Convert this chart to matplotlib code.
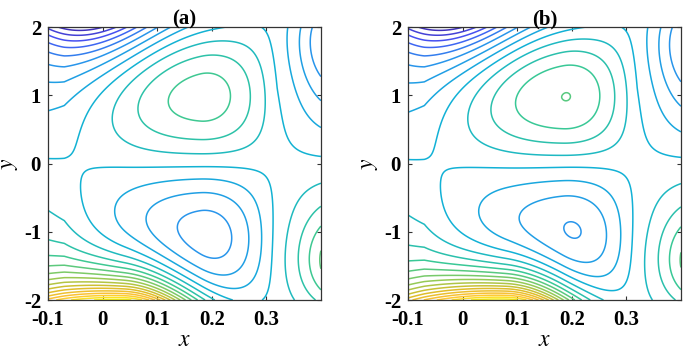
import matplotlib

matplotlib.use("Agg")

import matplotlib.pyplot as plt
import numpy as np
from matplotlib.colors import LinearSegmentedColormap, Normalize

# panel titles and axis ticks
panel_titles = ["(a)", "(b)"]
x_ticks = [-0.1, 0.0, 0.1, 0.2, 0.3]
x_tick_labels = ["-0.1", "0", "0.1", "0.2", "0.3"]
y_ticks = [-2, -1, 0, 1, 2]
y_tick_labels = ["-2", "-1", "0", "1", "2"]
x_range = [-0.1, 0.4]
y_range = [-2.0, 2.0]

# features (per panel a, b), strengths in contour steps
saddle_x = [(-0.07, 0.32), (-0.07, 0.32)]      # x of the two saddles on y = 0
cell_x = [0.18, 0.185]                         # x of the cell centres
upper_amp = [3.4, 3.88]                        # upper cell (maximum)
lower_amp = [4.2, 4.0]                         # lower cell (minimum)
top_amp = [9.0, 9.0]                           # top-left wall mode
top_x = [-0.04, -0.04]
bot_amp = [15.0, 15.5]                         # bottom wall mode (yellow)
bot_x = [0.04, 0.08]
br_amp = [3.5, 3.5]                            # bottom-right lobe
tr_amp = [4.5, 4.5]                            # top-right corner
level_offset = -0.25                           # contour levels sit at k + offset

parula_nodes = [
    (0.2422, 0.1504, 0.6603),
    (0.2810, 0.3228, 0.9579),
    (0.1540, 0.5902, 0.9218),
    (0.0689, 0.6948, 0.8394),
    (0.2161, 0.7843, 0.5923),
    (0.5709, 0.7961, 0.3470),
    (0.8633, 0.7406, 0.1596),
    (0.9966, 0.7610, 0.2160),
    (0.9769, 0.9839, 0.0805),
]
parula = LinearSegmentedColormap.from_list("parula", parula_nodes)

plt.rcParams["font.family"] = ["Liberation Serif", "DejaVu Serif"]
plt.rcParams["mathtext.fontset"] = "stix"


def field(i, X, Y):
    xa, xb = saddle_x[i]
    xc = cell_x[i]
    u = np.where(X < xc,
                 (X - xa) / (xc - xa) * np.pi / 2,
                 np.pi / 2 + (X - xc) / (xb - xc) * np.pi / 2)
    sx = np.sin(u)
    sx = np.where((X > xb) | (X < xa), 0.5 * sx, sx)
    sy = np.where(Y > 0, np.sin(np.pi * Y / 2), np.sin(np.pi * Y / 2 * 0.88))
    amp = np.where(Y > 0, upper_amp[i], lower_amp[i])
    cells = amp * sx * sy
    top = -top_amp[i] * np.exp((Y - 2) / 0.6) * np.exp(-((X - top_x[i]) / 0.14) ** 2)
    wb = np.where(X < bot_x[i], 0.25, 0.12)
    bot = bot_amp[i] * np.exp(-(Y + 2) / 0.43) * np.exp(-((X - bot_x[i]) / wb) ** 2)
    br = br_amp[i] * np.exp(-((X - 0.45) / 0.08) ** 2 - ((Y + 1.5) / 0.7) ** 2)
    tr = -tr_amp[i] * np.exp(-((X - 0.43) / 0.08) ** 2 - ((Y - 2.0) / 0.9) ** 2)
    return cells + top + bot + br + tr


xs = np.linspace(x_range[0], x_range[1], 500)
ys = np.linspace(y_range[0], y_range[1], 500)
XX, YY = np.meshgrid(xs, ys)

fig = plt.figure(figsize=(6.85, 3.54), dpi=100)
lefts = [0.070, 0.5956]
for i, left in enumerate(lefts):
    ax = fig.add_axes([left, 0.1525, 0.3985, 0.771])
    Z = field(i, XX, YY)
    levels = np.arange(np.floor(Z.min()), np.ceil(Z.max()) + 1, 1.0) + level_offset
    ax.contour(XX, YY, Z, levels=levels, cmap=parula,
               norm=Normalize(Z.min(), Z.max()), linewidths=1.1)
    ax.set_xlim(x_range)
    ax.set_ylim(y_range)
    ax.set_xticks(x_ticks)
    ax.set_xticklabels(x_tick_labels)
    ax.set_yticks(y_ticks)
    ax.set_yticklabels(y_tick_labels)
    ax.tick_params(direction="in", top=True, right=True, length=3,
                   labelsize=15, color="0.2")
    ax.tick_params(axis="x", pad=7)
    ax.tick_params(axis="y", pad=5)
    for lab in ax.get_xticklabels() + ax.get_yticklabels():
        lab.set_fontweight("bold")
    for sp in ax.spines.values():
        sp.set_color("0.2")
        sp.set_linewidth(0.9)
    ax.set_title(panel_titles[i], fontsize=15, fontweight="bold", pad=2)
    ax.set_xlabel("$x$", fontsize=17, labelpad=0)
    ax.set_ylabel("$y$", fontsize=17, labelpad=3)

fig.savefig("out.png", dpi=100)
